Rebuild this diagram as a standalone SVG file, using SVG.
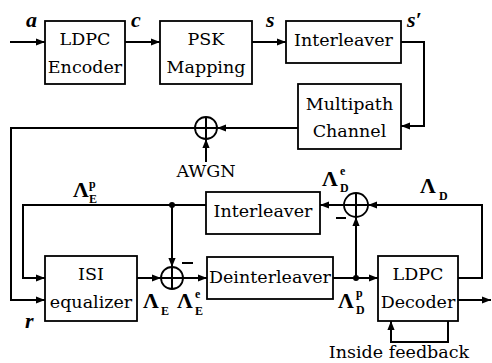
<svg xmlns="http://www.w3.org/2000/svg" width="492" height="363" viewBox="0 0 492 363">
  <style>
    .box { fill: #fff; stroke: #000; stroke-width: 1.8; }
    .wire { fill: none; stroke: #000; stroke-width: 2; }
    .arr { marker-end: url(#head); }
    .lbl { font-family: "DejaVu Serif", "Liberation Serif", serif; font-size: 17.5px; text-anchor: middle; fill: #000; }
    .var { font-family: "Liberation Serif", "DejaVu Serif", serif; font-size: 22px; font-weight: bold; font-style: italic; fill: #000; }
    .sym { font-family: "Liberation Serif", "DejaVu Serif", serif; font-size: 22px; font-weight: bold; fill: #000; }
    .sub { font-family: "Liberation Serif", "DejaVu Serif", serif; font-size: 12px; font-weight: bold; fill: #000; }
    .sum { fill: #fff; stroke: #000; stroke-width: 1.8; }
  </style>
  <defs>
    <marker id="head" viewBox="0 0 10 8" refX="10" refY="4" markerWidth="9" markerHeight="7.5" markerUnits="userSpaceOnUse" orient="auto">
      <path d="M0,0 L10,4 L0,8 z" fill="#000"/>
    </marker>
  </defs>

  <!-- connectors -->
  <g id="connectors">
    <path class="wire arr" d="M10,42 H45"/>
    <path class="wire arr" d="M125,42 H160"/>
    <path class="wire arr" d="M252,42 H286"/>
    <path class="wire arr" d="M401,42 H424 V126 H401"/>
    <path class="wire arr" d="M298,128 H217"/>
    <path class="wire arr" d="M195,128 H11 V300 H45"/>
    <path class="wire arr" d="M206,162 V139"/>
    <path class="wire arr" d="M206,205 H23 V278 H45"/>
    <path class="wire arr" d="M172,205 V267"/>
    <path class="wire arr" d="M137,278 H161"/>
    <path class="wire arr" d="M183,278 H207"/>
    <path class="wire arr" d="M333,278 H378"/>
    <path class="wire arr" d="M356,278 V217"/>
    <path class="wire arr" d="M458,278 H482 V205 H368"/>
    <path class="wire arr" d="M344,205 H320"/>
    <path class="wire arr" d="M458,300 H491"/>
    <path class="wire arr" d="M448,321 V342 H391 V321"/>
    <circle cx="172" cy="205" r="3" fill="#000"/>
    <circle cx="356" cy="278" r="3" fill="#000"/>
    <!-- subtraction marks -->
    <path class="wire" d="M182,263 H193" stroke-width="1.5"/>
    <path class="wire" d="M336,218 H346" stroke-width="1.5"/>
  </g>

  <!-- transmitter -->
  <g id="ldpc-encoder">
    <rect class="box" x="45" y="21" width="80" height="63"/>
    <text class="lbl" x="85" y="45">LDPC</text>
    <text class="lbl" x="85" y="73">Encoder</text>
  </g>
  <g id="psk-mapping">
    <rect class="box" x="160" y="21" width="92" height="63"/>
    <text class="lbl" x="206" y="45">PSK</text>
    <text class="lbl" x="206" y="73">Mapping</text>
  </g>
  <g id="interleaver-tx">
    <rect class="box" x="286" y="21" width="115" height="42"/>
    <text class="lbl" x="343.5" y="46">Interleaver</text>
  </g>
  <g id="multipath-channel">
    <rect class="box" x="298" y="84" width="103" height="65"/>
    <text class="lbl" x="349.5" y="110">Multipath</text>
    <text class="lbl" x="349.5" y="137">Channel</text>
  </g>
  <g id="awgn-sum">
    <circle class="sum" cx="206" cy="128" r="11"/>
    <path class="wire" d="M195,128 H217 M206,117 V139" stroke-width="1.5"/>
    <text class="lbl" x="206" y="177">AWGN</text>
  </g>

  <!-- receiver -->
  <g id="isi-equalizer">
    <rect class="box" x="45" y="256" width="92" height="65"/>
    <text class="lbl" x="91" y="280">ISI</text>
    <text class="lbl" x="91" y="308">equalizer</text>
  </g>
  <g id="sum-equalizer">
    <circle class="sum" cx="172" cy="278" r="11"/>
    <path class="wire" d="M161,278 H183 M172,267 V289" stroke-width="1.5"/>
  </g>
  <g id="deinterleaver">
    <rect class="box" x="207" y="257" width="126" height="42"/>
    <text class="lbl" x="270" y="283">Deinterleaver</text>
  </g>
  <g id="interleaver-rx">
    <rect class="box" x="206" y="192" width="114" height="42"/>
    <text class="lbl" x="263" y="217">Interleaver</text>
  </g>
  <g id="sum-decoder">
    <circle class="sum" cx="356" cy="205" r="12"/>
    <path class="wire" d="M344,205 H368 M356,193 V217" stroke-width="1.5"/>
  </g>
  <g id="ldpc-decoder">
    <rect class="box" x="378" y="256" width="80" height="65"/>
    <text class="lbl" x="418" y="280">LDPC</text>
    <text class="lbl" x="418" y="308">Decoder</text>
    <text class="lbl" x="399" y="358">Inside feedback</text>
  </g>

  <!-- signal labels -->
  <g id="labels">
    <text class="var" x="26" y="27">a</text>
    <text class="var" x="131" y="27">c</text>
    <text class="var" x="266" y="27">s</text>
    <text class="var" x="407" y="27">s′</text>
    <text class="var" x="25" y="328">r</text>

    <text class="sym" x="73" y="197">Λ</text>
    <text class="sub" x="89" y="188">p</text>
    <text class="sub" x="89" y="203">E</text>

    <text class="sym" x="143" y="308">Λ</text>
    <text class="sub" x="161" y="315">E</text>

    <text class="sym" x="177" y="308">Λ</text>
    <text class="sub" x="195" y="298">e</text>
    <text class="sub" x="195" y="315">E</text>

    <text class="sym" x="322" y="186">Λ</text>
    <text class="sub" x="340" y="175">e</text>
    <text class="sub" x="340" y="192">D</text>

    <text class="sym" x="420" y="193">Λ</text>
    <text class="sub" x="439" y="200">D</text>

    <text class="sym" x="338" y="308">Λ</text>
    <text class="sub" x="356" y="297">p</text>
    <text class="sub" x="356" y="314">D</text>
  </g>
</svg>
